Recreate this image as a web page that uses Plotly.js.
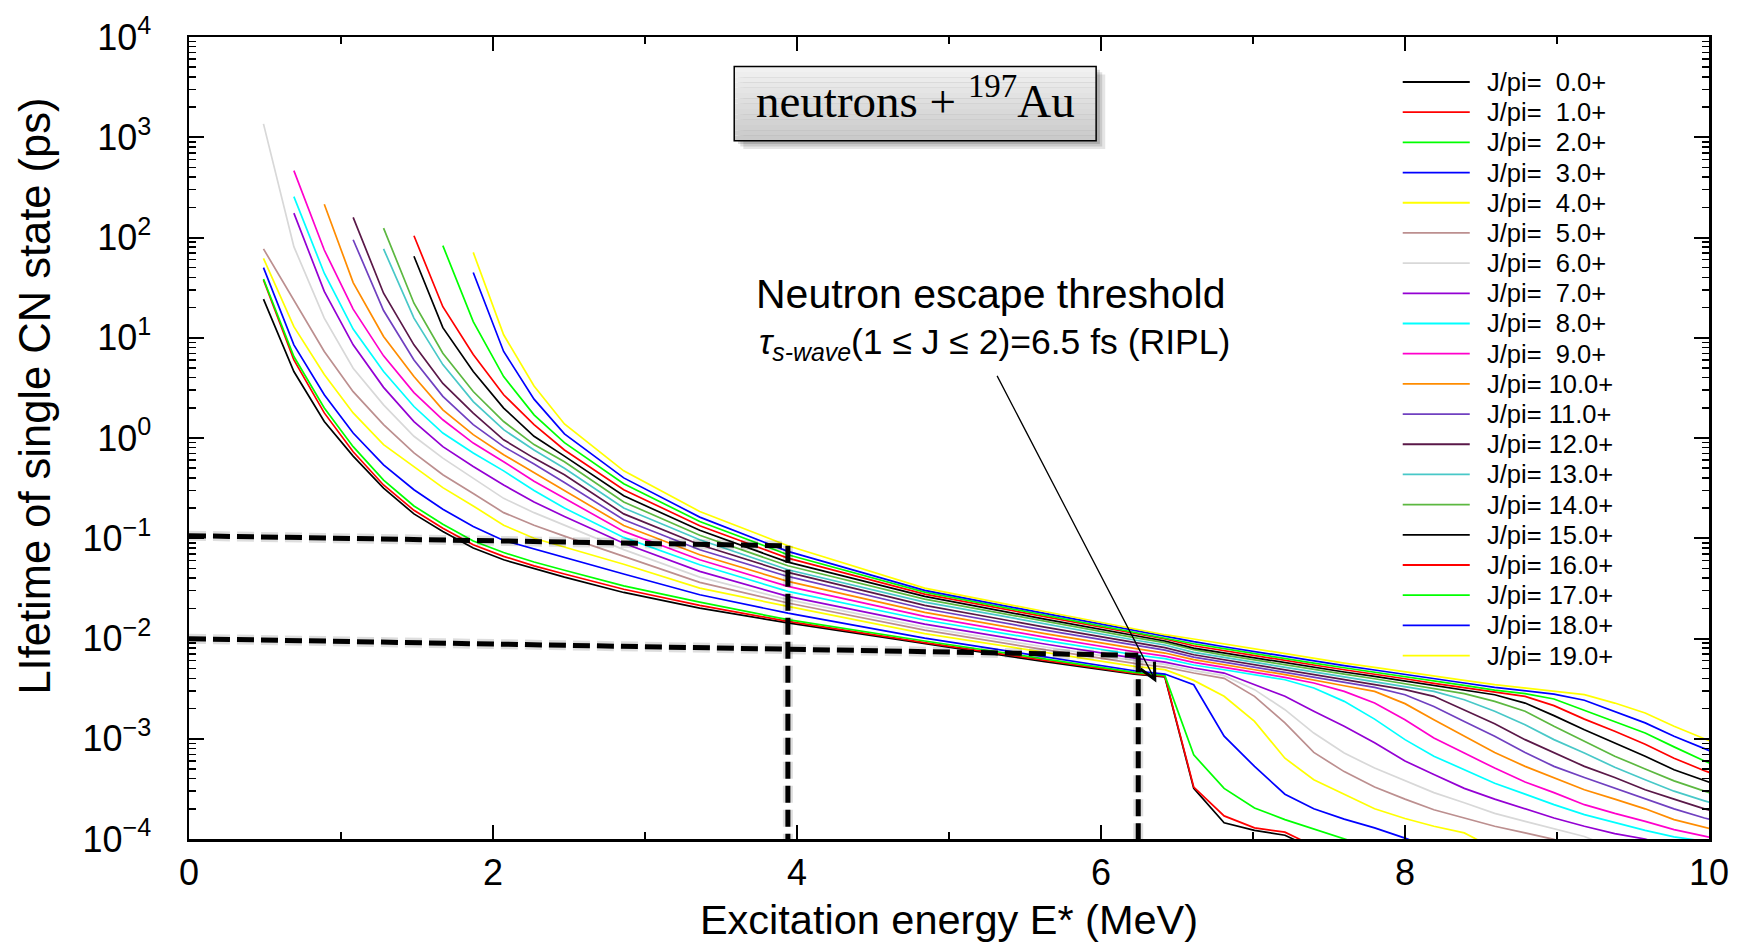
<!DOCTYPE html>
<html><head><meta charset="utf-8">
<script src="https://cdn.plot.ly/plotly-3.0.1.min.js"></script>
<style>html,body{margin:0;padding:0;background:#fff;} #chart{width:1740px;height:943px;}</style>
</head><body><div id="chart"></div>
<script>
// ---------------- data ----------------
const E_MEV = [0.49, 0.69, 0.89, 1.08, 1.28, 1.48, 1.67, 1.87, 2.07, 2.27, 2.47, 2.86, 3.36, 3.94, 4.84, 5.63, 6.22, 6.42, 6.61, 6.81, 7.01, 7.21, 7.40, 7.60, 7.80, 8.00, 8.19, 8.39, 8.59, 8.79, 8.98, 9.18, 9.38, 9.58, 9.77, 9.97, 10.17];

const SPINS = ['0.0','1.0','2.0','3.0','4.0','5.0','6.0','7.0','8.0','9.0','10.0','11.0','12.0','13.0','14.0','15.0','16.0','17.0','18.0','19.0'];

const TAU_J0 = [24.3, 4.6, 1.46, 0.66, 0.316, 0.175, 0.117, 0.080, 0.061, 0.0497, 0.041, 0.0288, 0.0201, 0.0143, 0.00887, 0.00587, 0.00442, 0.00413, 3.2e-4, 1.45e-4, 1.22e-4, 1.09e-4, 8.0e-5, null, null, null, null, null, null, null, null, null, null, null, null, null, null];
const TAU_J1 = [37.8, 6.0, 1.78, 0.73, 0.34, 0.19, 0.126, 0.086, 0.066, 0.053, 0.044, 0.031, 0.0214, 0.0148, 0.00908, 0.00601, 0.00449, 0.00419, 3.3e-4, 1.7e-4, 1.29e-4, 1.17e-4, 8.5e-5, null, null, null, null, null, null, null, null, null, null, null, null, null, null];
const TAU_J2 = [38.6, 6.5, 1.99, 0.82, 0.38, 0.21, 0.138, 0.094, 0.072, 0.058, 0.048, 0.0335, 0.0231, 0.0154, 0.00944, 0.00619, 0.00459, 0.00429, 6.9e-4, 3.2e-4, 2.04e-4, 1.56e-4, 1.26e-4, 1.02e-4, 8.0e-5, null, null, null, null, null, null, null, null, null, null, null, null];
const TAU_J3 = [50, 8.5, 2.7, 1.12, 0.54, 0.305, 0.195, 0.131, 0.095, 0.078, 0.065, 0.044, 0.0273, 0.0179, 0.0101, 0.00657, 0.00477, 0.00442, 0.00346, 1.06e-3, 5.3e-4, 2.8e-4, 2.0e-4, 1.58e-4, 1.29e-4, 1.02e-4, 8.0e-5, null, null, null, null, null, null, null, null, null, null];
const TAU_J4 = [62, 12.9, 4.3, 1.78, 0.86, 0.52, 0.32, 0.21, 0.135, 0.10, 0.082, 0.055, 0.0318, 0.0209, 0.0112, 0.00721, 0.00527, 0.00489, 0.00382, 0.00265, 0.00149, 6.4e-4, 3.9e-4, 2.8e-4, 2.0e-4, 1.6e-4, 1.34e-4, 1.15e-4, 8.0e-5, null, null, null, null, null, null, null, null];
const TAU_J5 = [77, 24, 7.3, 2.9, 1.36, 0.71, 0.43, 0.28, 0.18, 0.135, 0.105, 0.066, 0.0363, 0.0226, 0.0121, 0.00773, 0.00565, 0.00519, 0.00453, 0.0040, 0.00265, 0.00144, 7.3e-4, 4.7e-4, 3.3e-4, 2.5e-4, 1.96e-4, 1.62e-4, 1.34e-4, 1.15e-4, 9.9e-5, 8.0e-5, null, null, null, null, null];
const TAU_J6 = [1360, 81, 15.7, 4.97, 2.14, 1.04, 0.63, 0.40, 0.25, 0.18, 0.135, 0.077, 0.041, 0.0244, 0.0129, 0.00822, 0.00601, 0.00552, 0.00478, 0.00426, 0.00309, 0.00195, 0.00114, 7.2e-4, 5.1e-4, 3.8e-4, 2.9e-4, 2.3e-4, 1.8e-4, 1.5e-4, 1.26e-4, 1.06e-4, 8.0e-5, null, null, null, null];
const TAU_J7 = [null, 175, 29, 8.5, 3.2, 1.46, 0.82, 0.52, 0.34, 0.23, 0.165, 0.089, 0.0467, 0.0263, 0.0139, 0.00881, 0.00638, 0.00582, 0.00508, 0.00452, 0.00346, 0.00265, 0.00188, 0.00133, 9.1e-4, 6.0e-4, 4.4e-4, 3.2e-4, 2.5e-4, 2.0e-4, 1.62e-4, 1.34e-4, 1.13e-4, 1.0e-4, 8.0e-5, null, null];
const TAU_J8 = [null, 256, 44, 12.2, 4.6, 2.06, 1.12, 0.71, 0.47, 0.30, 0.20, 0.102, 0.0544, 0.0295, 0.0153, 0.00958, 0.00689, 0.00629, 0.00544, 0.00488, 0.00432, 0.00388, 0.00321, 0.00236, 0.00157, 9.8e-4, 6.7e-4, 4.9e-4, 3.6e-4, 2.8e-4, 2.2e-4, 1.75e-4, 1.45e-4, 1.22e-4, 1.05e-4, 9.5e-5, 8.0e-5];
const TAU_J9 = [null, 465, 75, 19.3, 6.6, 2.84, 1.52, 0.89, 0.58, 0.37, 0.25, 0.117, 0.0611, 0.0331, 0.0166, 0.0103, 0.00738, 0.00668, 0.00578, 0.00519, 0.00460, 0.00410, 0.00360, 0.00297, 0.00227, 0.00155, 0.00102, 7.2e-4, 5.1e-4, 3.7e-4, 2.9e-4, 2.2e-4, 1.8e-4, 1.5e-4, 1.24e-4, 1.07e-4, 9.0e-5];
const TAU_J10 = [null, null, 215, 35.5, 10.3, 4.1, 1.91, 1.08, 0.68, 0.45, 0.30, 0.134, 0.0685, 0.0371, 0.0182, 0.0112, 0.00797, 0.00716, 0.00615, 0.00552, 0.00488, 0.00436, 0.00388, 0.00338, 0.00297, 0.00224, 0.00155, 0.00106, 7.3e-4, 5.3e-4, 4.1e-4, 3.1e-4, 2.5e-4, 2.0e-4, 1.56e-4, 1.31e-4, 1.1e-4];
const TAU_J11 = [null, null, null, 95, 18.7, 6.0, 2.6, 1.36, 0.82, 0.55, 0.36, 0.153, 0.0768, 0.0416, 0.0198, 0.0121, 0.00854, 0.00767, 0.00653, 0.00582, 0.00519, 0.00463, 0.00416, 0.00371, 0.00326, 0.00275, 0.00210, 0.00149, 0.00106, 7.3e-4, 5.3e-4, 4.1e-4, 3.2e-4, 2.5e-4, 2.0e-4, 1.62e-4, 1.35e-4];
const TAU_J12 = [null, null, null, 159, 27.8, 8.5, 3.5, 1.77, 0.96, 0.63, 0.43, 0.175, 0.0861, 0.0456, 0.0214, 0.0130, 0.00908, 0.00810, 0.00689, 0.00614, 0.00548, 0.00488, 0.00442, 0.00394, 0.00352, 0.00309, 0.00265, 0.00195, 0.00141, 9.8e-4, 7.2e-4, 5.3e-4, 4.1e-4, 3.1e-4, 2.5e-4, 2.0e-4, 1.65e-4];
const TAU_J13 = [null, null, null, null, 77, 15.7, 5.4, 2.31, 1.21, 0.76, 0.50, 0.20, 0.0966, 0.0485, 0.0231, 0.0139, 0.00966, 0.00861, 0.00728, 0.00648, 0.00578, 0.00519, 0.00467, 0.00419, 0.00374, 0.00331, 0.00297, 0.00245, 0.00188, 0.00138, 9.8e-4, 7.2e-4, 5.2e-4, 3.9e-4, 3.0e-4, 2.4e-4, 1.95e-4];
const TAU_J14 = [null, null, null, null, 124, 22.1, 7.0, 2.91, 1.46, 0.86, 0.58, 0.23, 0.107, 0.0532, 0.0247, 0.0148, 0.01019, 0.00908, 0.00773, 0.00684, 0.00610, 0.00548, 0.00492, 0.00442, 0.00397, 0.00354, 0.00318, 0.00282, 0.00236, 0.00188, 0.00133, 9.4e-4, 6.7e-4, 5.0e-4, 3.8e-4, 3.0e-4, 2.4e-4];
const TAU_J15 = [null, null, null, null, null, 65, 12.6, 4.6, 1.99, 1.04, 0.66, 0.265, 0.120, 0.0578, 0.0263, 0.0156, 0.01067, 0.00944, 0.00803, 0.00716, 0.00639, 0.00574, 0.00515, 0.00463, 0.00419, 0.00376, 0.00338, 0.00304, 0.00275, 0.00227, 0.00170, 0.00123, 9.1e-4, 6.7e-4, 4.9e-4, 3.8e-4, 3.0e-4];
const TAU_J16 = [null, null, null, null, null, 104, 20.4, 6.8, 2.7, 1.36, 0.76, 0.305, 0.133, 0.0634, 0.0277, 0.0165, 0.01116, 0.00988, 0.00847, 0.00755, 0.00674, 0.00605, 0.00544, 0.00488, 0.00442, 0.00397, 0.00357, 0.00323, 0.00290, 0.00265, 0.00214, 0.00157, 0.00119, 8.8e-4, 6.4e-4, 4.8e-4, 3.8e-4];
const TAU_J17 = [null, null, null, null, null, null, 83, 14.5, 4.1, 1.7, 0.90, 0.35, 0.147, 0.0685, 0.0290, 0.0171, 0.01151, 0.01019, 0.00887, 0.00791, 0.00705, 0.00634, 0.00569, 0.00511, 0.00463, 0.00416, 0.00376, 0.00341, 0.00306, 0.00282, 0.00249, 0.00192, 0.00149, 0.00114, 8.3e-4, 6.0e-4, 4.5e-4];
const TAU_J18 = [null, null, null, null, null, null, null, 44.7, 7.3, 2.44, 1.10, 0.40, 0.1625, 0.0740, 0.0302, 0.0178, 0.01196, 0.01050, 0.00929, 0.00828, 0.00739, 0.00663, 0.00596, 0.00536, 0.00485, 0.00436, 0.00394, 0.00360, 0.00326, 0.00302, 0.00279, 0.00242, 0.00188, 0.00144, 0.00106, 7.9e-4, 6.0e-4];
const TAU_J19 = [null, null, null, null, null, null, null, 71, 10.7, 3.3, 1.38, 0.47, 0.185, 0.0842, 0.0318, 0.0186, 0.01242, 0.01091, 0.00988, 0.00881, 0.00785, 0.00705, 0.00634, 0.00569, 0.00515, 0.00463, 0.00419, 0.00382, 0.00346, 0.00321, 0.00297, 0.00275, 0.00227, 0.00181, 0.00133, 9.9e-4, 7.5e-4];

const SERIES = [TAU_J0, TAU_J1, TAU_J2, TAU_J3, TAU_J4, TAU_J5, TAU_J6, TAU_J7, TAU_J8, TAU_J9,
                TAU_J10, TAU_J11, TAU_J12, TAU_J13, TAU_J14, TAU_J15, TAU_J16, TAU_J17, TAU_J18, TAU_J19];

const Y_TICK_VALS = [1e-4, 1e-3, 1e-2, 1e-1, 1, 10, 100, 1000, 10000];
const Y_TICK_TEXT = ['10<sup>\u22124</sup>', '10<sup>\u22123</sup>', '10<sup>\u22122</sup>', '10<sup>\u22121</sup>',
                     '10<sup>0</sup>', '10<sup>1</sup>', '10<sup>2</sup>', '10<sup>3</sup>', '10<sup>4</sup>'];
const X_TICK_VALS = [0, 2, 4, 6, 8, 10];
const X_MINOR_VALS = [1, 3, 5, 7, 9];

// guide lines drawn on the reference (E in MeV, tau in ps)
const GUIDE_UPPER = {e0: 0, t0: 0.106, e1: 3.94, t1: 0.0841};
const GUIDE_LOWER = {e0: 0, t0: 0.00995, e1: 6.245, t1: 0.00679};
const ARROW_TIP = {e: 6.364, t: 0.00365};

// ---------------- styling ----------------
const LINE_COLORS = ['#000000', '#ff0000', '#00ff00', '#0000ff', '#ffff00', '#bc8f8f', '#d8d8d8',
                     '#9400d3', '#00ffff', '#ff00cc', '#ff8c00', '#7040c0', '#5a1848', '#48c8c8',
                     '#5cb840', '#000000', '#ff0000', '#00ff00', '#0000ff', '#ffff00'];
const SANS = 'Liberation Sans, Arial, Helvetica, sans-serif';
const SERIF = 'Liberation Serif, Times New Roman, serif';
const Y_LOG_RANGE = [-4, 4];

const legendLabel = j => 'J/pi=' + (j < 10 ? '\u00a0\u00a0' : '\u00a0') + SPINS[j] + '+';

const traces = SERIES.map((ys, j) => ({
  type: 'scatter', mode: 'lines', x: E_MEV, y: ys,
  name: legendLabel(j),
  line: {color: LINE_COLORS[j], width: 1.7},
  connectgaps: false, hoverinfo: 'skip', showlegend: false
}));

// paper fraction of a lifetime value on the log axis
const yPaper = t => (Math.log10(t) - Y_LOG_RANGE[0]) / (Y_LOG_RANGE[1] - Y_LOG_RANGE[0]);

const shapes = [];
const annotations = [];
function dashed(x0, t0, x1, t1) {
  const base = {type: 'line', xref: 'x', yref: 'paper', x0: x0, y0: yPaper(t0), x1: x1, y1: yPaper(t1), layer: 'above'};
  shapes.push(Object.assign({}, base, {line: {color: 'rgba(0,0,0,0.13)', width: 10, dash: '17px,7px'}}));
  shapes.push(Object.assign({}, base, {line: {color: 'black', width: 5, dash: '17px,7px'}}));
}
dashed(GUIDE_UPPER.e0, GUIDE_UPPER.t0, GUIDE_UPPER.e1, GUIDE_UPPER.t1);
dashed(GUIDE_UPPER.e1, GUIDE_UPPER.t1, GUIDE_UPPER.e1, 1e-4);
dashed(GUIDE_LOWER.e0, GUIDE_LOWER.t0, GUIDE_LOWER.e1, GUIDE_LOWER.t1);
dashed(GUIDE_LOWER.e1, GUIDE_LOWER.t1, GUIDE_LOWER.e1, 1e-4);

// label box (paper coordinates)
const BX0 = 0.3587, BX1 = 0.5968, BY0 = 0.8705, BY1 = 0.9631;
[[0.006, 0.010, 0.10], [0.004, 0.007, 0.12], [0.0025, 0.004, 0.14]].forEach(s => {
  shapes.push({type: 'rect', xref: 'paper', yref: 'paper', x0: BX0 + s[0], x1: BX1 + s[0],
    y0: BY0 - s[1], y1: BY1 - s[1], fillcolor: 'rgba(0,0,0,' + s[2] + ')', line: {width: 0}, layer: 'above'});
});
const NB = 14;
for (let i = 0; i < NB; i++) {
  const c = Math.round(242 - (242 - 200) * (i + 0.5) / NB);
  shapes.push({type: 'rect', xref: 'paper', yref: 'paper', x0: BX0, x1: BX1,
    y0: BY1 - (BY1 - BY0) * (i + 1) / NB, y1: BY1 - (BY1 - BY0) * i / NB,
    fillcolor: 'rgb(' + c + ',' + c + ',' + c + ')', line: {width: 0}, layer: 'above'});
}
shapes.push({type: 'rect', xref: 'paper', yref: 'paper', x0: BX0, x1: BX1, y0: BY0, y1: BY1,
  fillcolor: 'rgba(0,0,0,0)', line: {color: 'black', width: 1.5}, layer: 'above'});

// legend block (top right, inside the frame)
const LEG_X0 = 0.7985, LEG_X1 = 0.8426, LEG_TX = 0.8525, LEG_Y0 = 0.9439, LEG_DY = 0.03764;
SPINS.forEach((s, j) => {
  const yy = LEG_Y0 - j * LEG_DY;
  shapes.push({type: 'line', xref: 'paper', yref: 'paper', x0: LEG_X0, x1: LEG_X1, y0: yy, y1: yy,
    line: {color: LINE_COLORS[j], width: 1.8}, layer: 'above'});
  annotations.push({xref: 'paper', yref: 'paper', x: LEG_TX, y: yy, xanchor: 'left', yanchor: 'middle',
    text: legendLabel(j), showarrow: false, font: {family: SANS, size: 25.5, color: 'black'}});
});

annotations.push(
  {xref: 'paper', yref: 'paper', x: (BX0 + BX1) / 2, y: 0.9242, xanchor: 'center', yanchor: 'middle',
   text: 'neutrons + <sup>197</sup>Au', showarrow: false, font: {family: SERIF, size: 47, color: 'black'}},
  {xref: 'x', yref: 'paper', x: 5.274, y: 0.6797, xanchor: 'center', yanchor: 'middle',
   text: 'Neutron escape threshold', showarrow: false, font: {family: SANS, size: 41, color: 'black'}},
  {xref: 'x', yref: 'paper', x: 5.30, y: 0.617, xanchor: 'center', yanchor: 'middle',
   text: '<i>\u03c4</i><sub><i>s-wave</i></sub>(1 \u2264 J \u2264 2)=6.5 fs (RIPL)',
   showarrow: false, font: {family: SANS, size: 35.5, color: 'black'}},
  {xref: 'paper', yref: 'paper', x: -0.1015, y: 0.5525, xanchor: 'center', yanchor: 'middle', textangle: -90,
   text: 'LIfetime of single CN state (ps)', showarrow: false, font: {family: SANS, size: 43.5, color: 'black'}},
  {xref: 'x', yref: 'y', x: ARROW_TIP.e, y: Math.log10(ARROW_TIP.t), text: '', showarrow: true,
   ax: -160, ay: -308, arrowhead: 5, arrowsize: 2.4, arrowwidth: 1.3, arrowcolor: 'black'}
);

const layout = {
  width: 1740, height: 943,
  margin: {l: 189, r: 31, t: 37, b: 104, pad: 0},
  paper_bgcolor: 'white', plot_bgcolor: 'white',
  font: {family: SANS, color: 'black', size: 20},
  showlegend: false,
  xaxis: {
    range: [0, 10], tickmode: 'array', tickvals: X_TICK_VALS,
    ticks: 'inside', ticklen: 14, tickwidth: 2, tickcolor: 'black',
    showline: true, linecolor: 'black', linewidth: 2.5, mirror: 'ticks',
    showgrid: false, zeroline: false, tickfont: {family: SANS, size: 36},
    minor: {tickmode: 'array', tickvals: X_MINOR_VALS, ticks: 'inside', ticklen: 7, tickwidth: 1.5, tickcolor: 'black', showgrid: false},
    title: {text: 'Excitation energy E* (MeV)', font: {family: SANS, size: 41.5}, standoff: 16},
    automargin: false
  },
  yaxis: {
    type: 'log', range: Y_LOG_RANGE, tickmode: 'array', tickvals: Y_TICK_VALS, ticktext: Y_TICK_TEXT,
    ticks: 'inside', ticklen: 15, tickwidth: 2, tickcolor: 'black', ticklabelstandoff: 28,
    showline: true, linecolor: 'black', linewidth: 2.5, mirror: 'ticks',
    showgrid: false, zeroline: false, tickfont: {family: SANS, size: 36},
    minor: {tickmode: 'array', tickvals: [], ticks: 'inside', ticklen: 7, tickwidth: 1.5, tickcolor: 'black', showgrid: false},
    automargin: false
  },
  shapes: shapes,
  annotations: annotations
};
// minor log ticks 2..9 in every decade
for (let d = Y_LOG_RANGE[0]; d < Y_LOG_RANGE[1]; d++) for (let m = 2; m <= 9; m++) layout.yaxis.minor.tickvals.push(m * Math.pow(10, d));

Plotly.newPlot('chart', traces, layout, {staticPlot: true, displayModeBar: false});
</script></body></html>
